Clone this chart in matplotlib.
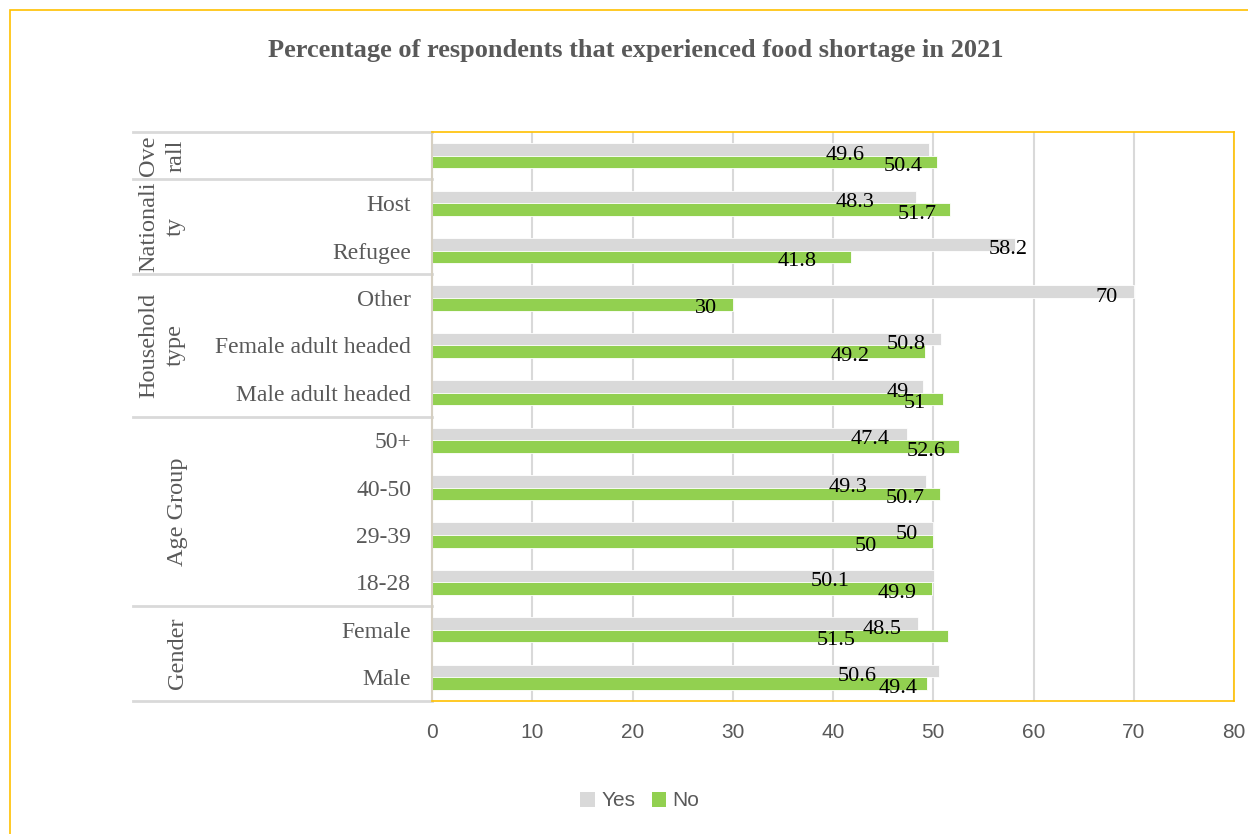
import matplotlib
matplotlib.use("Agg")
import matplotlib.pyplot as plt
import matplotlib.transforms as mtransforms
from matplotlib.patches import Rectangle, Patch
import numpy as np

# ---------------- data ----------------
categories = ["", "Host", "Refugee", "Other", "Female adult headed", "Male adult headed",
              "50+", "40-50", "29-39", "18-28", "Female", "Male"]
yes_vals = [49.6, 48.3, 58.2, 70, 50.8, 49, 47.4, 49.3, 50, 50.1, 48.5, 50.6]
no_vals = [50.4, 51.7, 41.8, 30, 49.2, 51, 52.6, 50.7, 50, 49.9, 51.5, 49.4]
yes_text = ["49.6", "48.3", "58.2", "70", "50.8", "49", "47.4", "49.3", "50", "50.1", "48.5", "50.6"]
no_text = ["50.4", "51.7", "41.8", "30", "49.2", "51", "52.6", "50.7", "50", "49.9", "51.5", "49.4"]
groups = ["Ove\nrall", "Nationali\nty", "Household\ntype", "Age Group", "Gender"]
group_sizes = [1, 2, 3, 4, 2]
series_names = ["Yes", "No"]
x_ticks = [0, 10, 20, 30, 40, 50, 60, 70, 80]
title = "Percentage of respondents that experienced food shortage in 2021"

# ---------------- layout (label placement, data units) ----------------
yes_label_x = [41.2, 42.2, 57.5, 67.3, 47.3, 46.5, 43.7, 41.5, 47.4, 39.7, 44.9, 42.4]
no_label_x = [47.0, 48.4, 36.4, 27.3, 41.7, 48.2, 49.3, 47.2, 43.3, 46.4, 40.3, 46.5]
group_label_xpx = [162, 162, 162, 177, 177]

YES_C = "#D9D9D9"
NO_C = "#92D050"
TXT = "#595959"
GOLD = "#FFC000"
W, H = 1248, 834

fig = plt.figure(figsize=(W / 100, H / 100), dpi=100)

# outer gold frame (cropped at right/bottom)
fig.patches.append(Rectangle((10 / W, -0.05), 1.2, 1 - 10 / H + 0.05, transform=fig.transFigure,
                             fill=False, edgecolor=GOLD, lw=1.2, zorder=0))

ax = fig.add_axes([432 / W, 1 - 701 / H, (1234 - 432) / W, (701 - 132) / H])

n = len(categories)
y = np.arange(n)
bh = 0.265
ax.barh(y - bh / 2, yes_vals, height=bh, color=YES_C, edgecolor="white", lw=0.6,
        label=series_names[0], zorder=2)
ax.barh(y + bh / 2, no_vals, height=bh, color=NO_C, edgecolor="white", lw=0.6,
        label=series_names[1], zorder=2)

serif = ["Liberation Serif", "DejaVu Serif"]
for i in range(n):
    ax.text(yes_label_x[i], y[i] - bh / 2 + 0.12, yes_text[i], ha="center", va="center",
            fontsize=16, family=serif, color="black", zorder=3)
    ax.text(no_label_x[i], y[i] + bh / 2 + 0.10, no_text[i], ha="center", va="center",
            fontsize=16, family=serif, color="black", zorder=3)

ax.set_xlim(0, 80)
ax.set_ylim(n - 0.5, -0.5)
ax.set_xticks(x_ticks)
ax.set_xticklabels([str(t) for t in x_ticks], fontsize=15, color=TXT, family="Liberation Sans")
ax.tick_params(axis="x", length=0, pad=16)
ax.set_yticks(y)
ax.set_yticklabels(categories, fontsize=17, color=TXT, family=serif)
ax.tick_params(axis="y", length=0, pad=15)
ax.grid(axis="x", color="#D9D9D9", lw=1.5, zorder=0)
ax.set_axisbelow(True)
for s in ["top", "right", "bottom"]:
    ax.spines[s].set_color(GOLD)
    ax.spines[s].set_linewidth(1.2)
ax.spines["left"].set_color("#D6D0C2")
ax.spines["left"].set_linewidth(1.5)

# group separators and group labels
trans = mtransforms.blended_transform_factory(ax.transAxes, ax.transData)
ax_w_px = 1234 - 432
x_left = (133 - 432) / ax_w_px
bounds = np.concatenate([[0], np.cumsum(group_sizes)]) - 0.5
for b in bounds:
    ax.plot([x_left, 0], [b, b], transform=trans, color="#D9D9D9", lw=2, clip_on=False, zorder=1)
for gi, g in enumerate(groups):
    yc = (bounds[gi] + bounds[gi + 1]) / 2
    ax.text((group_label_xpx[gi] - 432) / ax_w_px, yc, g, transform=trans, rotation=90,
            ha="center", va="center", fontsize=17.5, color=TXT, family=serif,
            multialignment="center", linespacing=1.4)

fig.text(636 / W, 1 - 50 / H, title, ha="center", va="center", fontsize=19, fontweight="bold",
         color=TXT, family=serif)

handles = [Patch(facecolor=YES_C, edgecolor="none"), Patch(facecolor=NO_C, edgecolor="none")]
fig.legend(handles, series_names, loc="center", bbox_to_anchor=(640 / W, 1 - 801 / H), ncol=2,
           frameon=False, prop={"family": "Liberation Sans", "size": 15}, labelcolor=TXT,
           handlelength=0.7, handleheight=0.7, handletextpad=0.3, columnspacing=0.8)

fig.savefig("out.png", dpi=100)
